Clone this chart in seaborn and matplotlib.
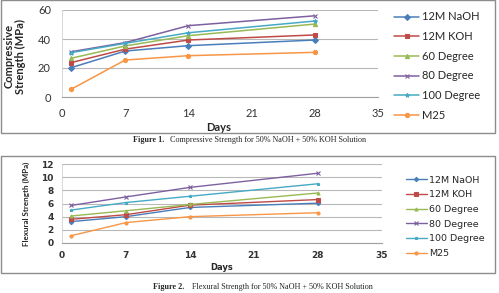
#!/usr/bin/env python3

import pandas as pd
import seaborn as sns
import matplotlib.pyplot as plt
from matplotlib.patches import Rectangle

days = [1, 7, 14, 28]
series = ['12M NaOH', '12M KOH', '60 Degree', '80 Degree', '100 Degree', 'M25']

# compressive strength (MPa)
comp_naoh = [20.2, 31.7, 35.4, 39.3]
comp_koh = [23.7, 33.0, 39.3, 42.8]
comp_60 = [26.7, 35.2, 42.3, 50.3]
comp_80 = [31.2, 37.5, 49.2, 56.0]
comp_100 = [30.6, 37.0, 44.3, 52.4]
comp_m25 = [5.3, 25.5, 28.5, 30.8]

# flexural strength (MPa)
flex_naoh = [3.25, 4.0, 5.4, 6.05]
flex_koh = [3.6, 4.3, 5.75, 6.6]
flex_60 = [4.1, 4.9, 5.85, 7.6]
flex_80 = [5.7, 7.0, 8.45, 10.6]
flex_100 = [5.0, 6.15, 7.1, 9.0]
flex_m25 = [1.1, 3.1, 4.0, 4.6]

colors = ['#4A7EBB', '#BE4B48', '#98B954', '#7D60A0', '#46AAC5', '#F79646']
markers = ['D', 's', '^', 'x', '*', 'o']


def long_df(vals):
    rows = []
    for name, v in zip(series, vals):
        for d, y in zip(days, v):
            rows.append({'day': d, 'series': name, 'value': y})
    return pd.DataFrame(rows)


comp = long_df([comp_naoh, comp_koh, comp_60, comp_80, comp_100, comp_m25])
flex = long_df([flex_naoh, flex_koh, flex_60, flex_80, flex_100, flex_m25])

sns.set_style('white')
plt.rcParams['font.family'] = ['Lato', 'DejaVu Sans']

fig = plt.figure(figsize=(4.99, 2.93), dpi=100)
W, H = 499, 293


def fx(x):
    return x / W


def fy(y):
    return 1 - y / H


# chart borders
for (x0, y0, x1, y1) in [(1, 0.5, 495, 133), (1, 156, 495, 273)]:
    fig.patches.append(Rectangle((fx(x0), fy(y1)), fx(x1 - x0), (y1 - y0) / H,
                                 transform=fig.transFigure, fill=False,
                                 edgecolor='#8c8c8c', lw=1.0))


def draw(ax, df, ylim, yticks, ms, lw, tickfs, tickw, legfs, legpos, spacing,
         family):
    for name, c, m in zip(series, colors, markers):
        sub = df[df['series'] == name]
        sns.lineplot(data=sub, x='day', y='value', color=c, marker=m,
                     markersize=ms, markeredgecolor=c, markeredgewidth=0.8,
                     lw=lw, label=name, ax=ax)
    ax.set_xlim(0, 35)
    ax.set_xticks([0, 7, 14, 21, 28, 35])
    ax.set_ylim(*ylim)
    ax.set_yticks(yticks)
    ax.grid(axis='y', color='#b8b8b8', lw=0.8)
    ax.set_axisbelow(True)
    for s in ['top', 'right']:
        ax.spines[s].set_visible(False)
    ax.spines['bottom'].set_color('#a0a0a0')
    ax.spines['left'].set_color('#d0d0d0')
    ax.spines['left'].set_linewidth(0.6)
    ax.tick_params(length=0, labelsize=tickfs, colors='#333333')
    ax.tick_params(axis='x', pad=8)
    ax.tick_params(axis='y', pad=8)
    for t in ax.get_xticklabels() + ax.get_yticklabels():
        t.set_family(family)
        t.set_fontweight(tickw)
    h, l = ax.get_legend_handles_labels()
    ax.legend(h, l, loc='upper left', bbox_to_anchor=legpos,
              bbox_transform=fig.transFigure, frameon=False,
              prop={'family': family, 'size': legfs}, handlelength=2.2,
              labelspacing=spacing, handletextpad=0.3, borderaxespad=0)


ax1 = fig.add_axes([fx(62), fy(97), fx(378 - 62), 87 / H])
draw(ax1, comp, (0, 60), [0, 20, 40, 60], 3, 1.1, 8, 'normal', 8,
     (fx(390), fy(7)), 0.78, ['Lato', 'DejaVu Sans'])
ax1.set_xlabel('Days', fontsize=8, fontweight='bold')
ax1.xaxis.set_label_coords(fx(219 - 62) / fx(378 - 62), -0.29)
ax1.set_ylabel('Compressive\nStrength (MPa)', fontsize=8, fontweight='bold',
               linespacing=1.0)
ax1.yaxis.set_label_coords(-0.115, 0.47)

ax2 = fig.add_axes([fx(62), fy(243), fx(382 - 62), 79 / H])
draw(ax2, flex, (0, 12), [0, 2, 4, 6, 8, 10, 12], 2.2, 1.0, 6.5, 'bold', 6.8,
     (fx(402), fy(172)), 0.6, ['DejaVu Sans'])
ax2.tick_params(axis='y', pad=6)
ax2.tick_params(axis='x', pad=6)
ax2.set_xlabel('Days', fontsize=6, fontweight='bold', family='DejaVu Sans')
ax2.xaxis.set_label_coords(fx(222 - 62) / fx(382 - 62), -0.25)
ax2.set_ylabel('Flexural Strength (MPa)', fontsize=5.8, fontweight='bold',
               family=['Liberation Sans Narrow', 'Lato', 'DejaVu Sans'])
ax2.yaxis.set_label_coords(-0.1, 0.5)

# captions
serif = ['Liberation Serif', 'DejaVu Serif']
fig.text(fx(133), fy(140), 'Figure 1.', ha='left', va='center', fontsize=5.85,
         fontweight='bold', family=serif)
fig.text(fx(170), fy(140), 'Compressive Strength for 50% NaOH + 50% KOH Solution',
         ha='left', va='center', fontsize=5.85, family=serif)
fig.text(fx(153), fy(287), 'Figure 2.', ha='left', va='center', fontsize=5.85,
         fontweight='bold', family=serif)
fig.text(fx(192), fy(287), 'Flexural Strength for 50% NaOH + 50% KOH Solution',
         ha='left', va='center', fontsize=5.85, family=serif)

plt.savefig('out.png', dpi=100)
